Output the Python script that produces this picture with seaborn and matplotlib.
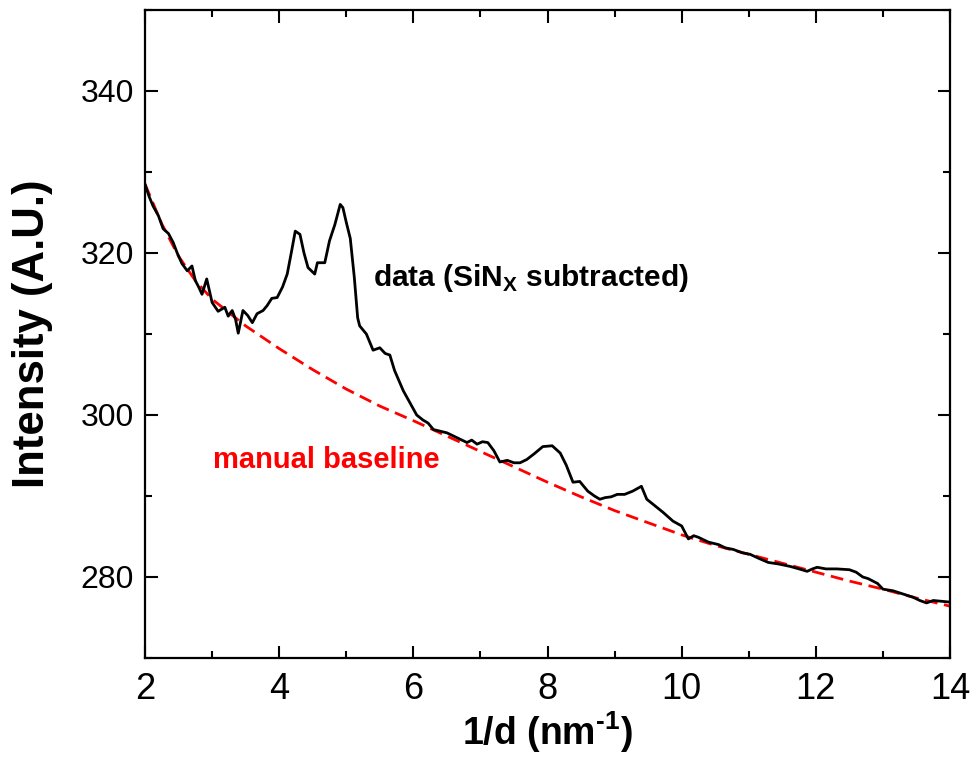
import matplotlib
matplotlib.use("Agg")
import matplotlib.pyplot as plt
from matplotlib import font_manager
from matplotlib.ticker import MultipleLocator
import seaborn as sns
import pandas as pd

# ---- data ----
data_x = [2.00, 2.06, 2.12, 2.20, 2.27, 2.35, 2.42, 2.48, 2.55, 2.63, 2.70, 2.75, 2.80, 2.85,
          2.92, 3.00, 3.09, 3.19, 3.24, 3.30, 3.35, 3.39, 3.46, 3.53, 3.60, 3.67, 3.76, 3.82,
          3.89, 3.97, 4.05, 4.12, 4.18, 4.24, 4.31, 4.37, 4.43, 4.53, 4.57, 4.68, 4.75, 4.83,
          4.91, 4.95, 5.00, 5.06, 5.12, 5.17, 5.20, 5.30, 5.40, 5.50, 5.58, 5.65, 5.72, 5.85,
          5.95, 6.05, 6.14, 6.22, 6.30, 6.40, 6.50, 6.60, 6.70, 6.80, 6.87, 6.95, 7.03, 7.11,
          7.20, 7.29, 7.40, 7.50, 7.59, 7.69, 7.80, 7.93, 8.07, 8.19, 8.28, 8.38, 8.48, 8.60,
          8.70, 8.78, 8.86, 8.95, 9.04, 9.15, 9.27, 9.40, 9.48, 9.60, 9.72, 9.87, 10.00, 10.10,
          10.18, 10.25, 10.40, 10.55, 10.65, 10.77, 10.90, 11.02, 11.15, 11.29, 11.45, 11.62,
          11.75, 11.87, 11.95, 12.02, 12.15, 12.31, 12.50, 12.60, 12.70, 12.78, 12.85, 12.92,
          13.00, 13.15, 13.30, 13.45, 13.55, 13.65, 13.75, 13.88, 14.00]
data_y = [328.5, 327.0, 325.8, 324.6, 323.0, 322.4, 321.3, 320.0, 318.7, 317.8, 318.4, 316.6, 315.8, 314.9,
          316.8, 313.9, 312.8, 313.3, 312.2, 312.9, 311.8, 310.1, 312.9, 312.3, 311.4, 312.5, 312.9, 313.5,
          314.4, 314.5, 315.8, 317.4, 320.0, 322.7, 322.3, 320.0, 318.2, 317.4, 318.8, 318.8, 321.5, 323.5,
          326.0, 325.6, 323.8, 321.8, 317.0, 312.0, 311.0, 310.0, 308.0, 308.3, 307.6, 307.4, 305.5, 303.0,
          301.5, 300.0, 299.4, 299.0, 298.2, 298.0, 297.8, 297.4, 297.0, 296.6, 296.9, 296.4, 296.7, 296.6,
          295.6, 294.2, 294.4, 294.1, 294.1, 294.5, 295.2, 296.1, 296.2, 295.3, 293.8, 291.7, 291.8, 290.6,
          290.0, 289.6, 289.8, 289.9, 290.2, 290.2, 290.6, 291.2, 289.6, 288.8, 288.0, 286.9, 286.3, 284.7,
          285.1, 284.9, 284.3, 284.0, 283.6, 283.4, 283.0, 282.8, 282.3, 281.8, 281.6, 281.3,
          281.0, 280.7, 281.0, 281.2, 281.0, 281.0, 280.9, 280.6, 280.0, 279.8, 279.5, 279.2,
          278.5, 278.3, 277.9, 277.5, 277.1, 276.8, 277.1, 277.0, 276.9]

base_x = [2.0, 2.25, 2.5, 2.75, 3.0, 3.5, 4.0, 4.5, 5.0, 5.5, 6.0, 6.5, 7.0, 7.5, 8.0, 8.5,
          9.0, 9.5, 10.0, 10.5, 11.0, 11.5, 12.0, 12.5, 13.0, 13.5, 14.0]
base_y = [328.5, 323.6, 319.6, 316.6, 314.3, 311.0, 308.2, 305.6, 303.2, 301.1, 299.3, 297.4,
          295.5, 293.6, 291.7, 289.9, 288.2, 286.7, 285.2, 283.9, 282.8, 281.7, 280.6, 279.5,
          278.5, 277.4, 276.4]

x_ticks = [2, 4, 6, 8, 10, 12, 14]
y_ticks = [280, 300, 320, 340]

data_label = r"data (SiN$_{\mathbf{X}}$ subtracted)"
base_label = "manual baseline"
x_label = "1/d (nm$^{\\mathbf{\u20101}}$)"
y_label = "Intensity (A.U.)"

# ---- style ----
sns.set_theme(style="ticks")
plt.rcParams["font.family"] = ["Liberation Sans", "DejaVu Sans"]
plt.rcParams["mathtext.fontset"] = "custom"
plt.rcParams["mathtext.rm"] = "Liberation Sans"
plt.rcParams["mathtext.bf"] = "Liberation Sans:bold"
for k in ["text.color", "axes.labelcolor", "xtick.color", "ytick.color", "axes.edgecolor"]:
    plt.rcParams[k] = "black"

names = {f.name for f in font_manager.fontManager.ttflist}
narrow = "Liberation Sans Narrow" if "Liberation Sans Narrow" in names else "Liberation Sans"

fig = plt.figure(figsize=(9.72, 7.59), dpi=100)
ax = fig.add_axes([145 / 972, 1 - 658 / 759, 805 / 972, 648 / 759])

df_data = pd.DataFrame({"x": data_x, "y": data_y})
df_base = pd.DataFrame({"x": base_x, "y": base_y})

sns.lineplot(data=df_base, x="x", y="y", ax=ax, color="#ff0000", lw=2.0,
             estimator=None, zorder=2)
ax.lines[-1].set_dashes([4.6, 2.4])
sns.lineplot(data=df_data, x="x", y="y", ax=ax, color="black", lw=2.0,
             estimator=None, zorder=3)

ax.set_xlim(2, 14)
ax.set_ylim(270, 350)
ax.set_xticks(x_ticks)
ax.set_yticks(y_ticks)
ax.xaxis.set_minor_locator(MultipleLocator(1))
ax.yaxis.set_minor_locator(MultipleLocator(10))
ax.tick_params(which="both", direction="in", top=True, right=True, width=1.5, color="black")
ax.tick_params(which="major", length=9)
ax.tick_params(which="minor", length=5)
ax.tick_params(axis="y", labelsize=23, pad=8, labelcolor="black")
ax.tick_params(axis="x", labelsize=26, pad=10, labelcolor="black")
for lab in ax.get_xticklabels():
    lab.set_fontfamily(narrow)
for s in ax.spines.values():
    s.set_linewidth(1.6)
    s.set_color("black")

ax.set_xlabel(x_label, fontsize=27, fontweight="bold", labelpad=2, color="black")
ax.set_ylabel(y_label, fontsize=31.5, fontweight="bold", labelpad=20, color="black")

ax.text(5.40, 316.9, data_label, fontsize=21.5, fontweight="bold", color="black",
        ha="left", va="center")
ax.text(3.01, 294.5, base_label, fontsize=21, fontweight="bold", color="#ff0000",
        ha="left", va="center")

fig.savefig("out.png", dpi=100, facecolor="white")
